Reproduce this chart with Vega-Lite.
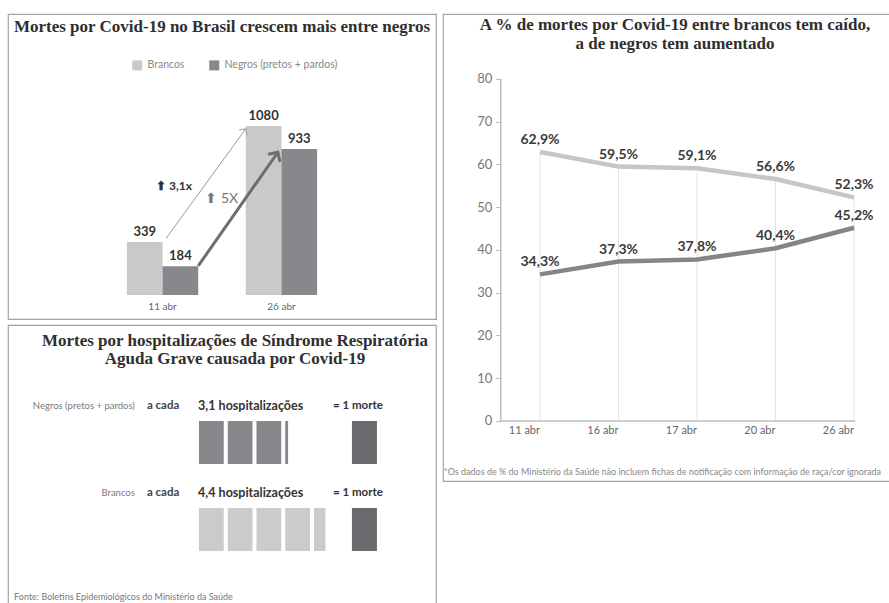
{
  "$schema": "https://vega.github.io/schema/vega-lite/v6.json",
  "background": "white",
  "padding": {"left": 7, "top": 13, "right": 0, "bottom": 0},
  "config": {
    "font": "Lato",
    "view": {"stroke": "#a3a3a3", "strokeWidth": 1.2},
    "locale": {"number": {"decimal": ",", "thousands": ".", "grouping": [3], "currency": ["R$", ""]}},
    "title": {"font": "Liberation Serif", "fontWeight": "bold", "fontSize": 17, "color": "#2f2f2f", "anchor": "middle"}
  },
  "datasets": {
    "bars": [
      {"date": "11 abr", "group": "Brancos", "deaths": 339},
      {"date": "11 abr", "group": "Negros (pretos + pardos)", "deaths": 184},
      {"date": "26 abr", "group": "Brancos", "deaths": 1080},
      {"date": "26 abr", "group": "Negros (pretos + pardos)", "deaths": 933}
    ],
    "picto_units": [
      {"group": "Negros (pretos + pardos)", "start": 0, "end": 1},
      {"group": "Negros (pretos + pardos)", "start": 1, "end": 2},
      {"group": "Negros (pretos + pardos)", "start": 2, "end": 3},
      {"group": "Negros (pretos + pardos)", "start": 3, "end": 3.1},
      {"group": "Brancos", "start": 0, "end": 1},
      {"group": "Brancos", "start": 1, "end": 2},
      {"group": "Brancos", "start": 2, "end": 3},
      {"group": "Brancos", "start": 3, "end": 4},
      {"group": "Brancos", "start": 4, "end": 4.4}
    ],
    "picto_groups": [
      {"group": "Negros (pretos + pardos)", "hosp": 3.1, "label": "3,1 hospitalizações"},
      {"group": "Brancos", "hosp": 4.4, "label": "4,4 hospitalizações"}
    ],
    "pct": [
      {"date": "11 abr", "group": "Brancos", "pct": 62.9},
      {"date": "16 abr", "group": "Brancos", "pct": 59.5},
      {"date": "17 abr", "group": "Brancos", "pct": 59.1},
      {"date": "20 abr", "group": "Brancos", "pct": 56.6},
      {"date": "26 abr", "group": "Brancos", "pct": 52.3},
      {"date": "11 abr", "group": "Negros (pretos + pardos)", "pct": 34.3},
      {"date": "16 abr", "group": "Negros (pretos + pardos)", "pct": 37.3},
      {"date": "17 abr", "group": "Negros (pretos + pardos)", "pct": 37.8},
      {"date": "20 abr", "group": "Negros (pretos + pardos)", "pct": 40.4},
      {"date": "26 abr", "group": "Negros (pretos + pardos)", "pct": 45.2}
    ]
  },
  "spacing": 5,
  "resolve": {"scale": {"color": "independent"}, "legend": {"color": "independent"}},
  "hconcat": [
    {
      "spacing": 4,
      "resolve": {"scale": {"color": "independent"}, "legend": {"color": "independent"}},
      "vconcat": [
        {
          "width": 428,
          "height": 305,
          "title": {"text": "Mortes por Covid-19 no Brasil crescem mais entre negros", "baseline": "top", "offset": -22},
          "layer": [
            {
              "data": {"name": "bars"},
              "mark": {"type": "bar"},
              "encoding": {
                "x": {"field": "date", "type": "nominal", "title": null,
                      "scale": {"domain": ["11 abr", "26 abr"], "paddingInner": 0.4, "paddingOuter": 1.11},
                      "axis": {"labelAngle": 0, "domain": false, "ticks": false, "offset": -24, "labelPadding": 6, "labelFontSize": 10, "labelColor": "#666"}},
                "xOffset": {"field": "group", "type": "nominal", "scale": {"domain": ["Brancos", "Negros (pretos + pardos)"]}},
                "y": {"field": "deaths", "type": "quantitative", "scale": {"domain": [-153, 1795], "nice": false, "zero": false}, "axis": null},
                "color": {"field": "group", "type": "nominal",
                          "scale": {"domain": ["Brancos", "Negros (pretos + pardos)"], "range": ["#c9c9c9", "#88888c"]},
                          "legend": {"orient": "none", "legendX": 124, "legendY": 46, "direction": "horizontal", "title": null,
                                     "symbolType": "square", "symbolSize": 100, "symbolStrokeWidth": 0,
                                     "labelFontSize": 10.5, "labelColor": "#888", "columnPadding": 24, "labelOffset": 5}}
              }
            },
            {
              "data": {"name": "bars"},
              "mark": {"type": "text", "dy": -10, "fontWeight": "bold", "fontSize": 13, "color": "#333"},
              "encoding": {
                "x": {"field": "date", "type": "nominal", "title": null},
                "xOffset": {"field": "group", "type": "nominal"},
                "y": {"field": "deaths", "type": "quantitative", "axis": null},
                "text": {"field": "deaths", "type": "quantitative"}
              }
            },
            {
              "data": {"values": [{"start": "11 abr", "end": "26 abr", "v0": 362, "v1": 1062}]},
              "mark": {"type": "rule", "color": "#9a9a9a", "strokeWidth": 1},
              "encoding": {
                "x": {"field": "start", "type": "nominal", "bandPosition": 0.55, "title": null},
                "x2": {"field": "end", "bandPosition": 0},
                "y": {"field": "v0", "type": "quantitative", "axis": null},
                "y2": {"field": "v1"}
              }
            },
            {
              "data": {"values": [{"end": "26 abr", "v1": 1062}]},
              "mark": {"type": "point", "shape": "M-1,1L0,0L1,1", "filled": false, "strokeWidth": 1, "color": "#9a9a9a", "size": 90, "angle": 34, "opacity": 1},
              "encoding": {
                "x": {"field": "end", "type": "nominal", "bandPosition": 0, "title": null},
                "y": {"field": "v1", "type": "quantitative", "axis": null}
              }
            },
            {
              "data": {"values": [{"start": "11 abr", "end": "26 abr", "v0": 186, "v1": 912}]},
              "mark": {"type": "rule", "color": "#6d6d71", "strokeWidth": 3},
              "encoding": {
                "x": {"field": "start", "type": "nominal", "bandPosition": 1.0, "title": null},
                "x2": {"field": "end", "bandPosition": 0.45},
                "y": {"field": "v0", "type": "quantitative", "axis": null},
                "y2": {"field": "v1"}
              }
            },
            {
              "data": {"values": [{"end": "26 abr", "v1": 912}]},
              "mark": {"type": "point", "shape": "M-1,1L0,0L1,1", "filled": false, "strokeWidth": 3, "color": "#6d6d71", "size": 200, "angle": 33, "opacity": 1},
              "encoding": {
                "x": {"field": "end", "type": "nominal", "bandPosition": 0.45, "title": null},
                "y": {"field": "v1", "type": "quantitative", "axis": null}
              }
            },
            {
              "data": {"values": [{"date": "11 abr", "v": 696, "t": "⬆ 3,1x"}]},
              "mark": {"type": "text", "fontWeight": "bold", "fontSize": 12, "color": "#333"},
              "encoding": {
                "x": {"field": "date", "type": "nominal", "bandPosition": 0.66, "title": null},
                "y": {"field": "v", "type": "quantitative", "axis": null},
                "text": {"field": "t"}
              }
            },
            {
              "data": {"values": [{"date": "11 abr", "v": 613, "t": "⬆ 5X"}]},
              "mark": {"type": "text", "fontSize": 14, "color": "#777"},
              "encoding": {
                "x": {"field": "date", "type": "nominal", "bandPosition": 1.33, "title": null},
                "y": {"field": "v", "type": "quantitative", "axis": null},
                "text": {"field": "t"}
              }
            }
          ]
        },
        {
          "width": 428,
          "height": 280,
          "title": {"text": ["Mortes por hospitalizações de Síndrome Respiratória", "Aguda Grave causada por Covid-19"], "baseline": "top", "offset": -43, "dx": 13, "lineHeight": 18},
          "layer": [
            {
              "data": {"name": "picto_units"},
              "transform": [{"filter": "datum.end - datum.start >= 1"}],
              "mark": {"type": "rect", "x2Offset": -4},
              "encoding": {
                "x": {"field": "start", "type": "quantitative", "scale": {"domain": [-6.643, 8.244], "nice": false, "zero": false}, "axis": null},
                "x2": {"field": "end"},
                "y": {"field": "group", "type": "nominal", "scale": {"domain": ["Negros (pretos + pardos)", "Brancos"], "paddingInner": 0.5057, "paddingOuter": 0.862, "align": 0.64}, "axis": null},
                "color": {"field": "group", "type": "nominal", "scale": {"domain": ["Brancos", "Negros (pretos + pardos)"], "range": ["#cbcbcb", "#88888c"]}, "legend": null}
              }
            },
            {
              "data": {"name": "picto_units"},
              "transform": [{"filter": "datum.end - datum.start < 1"}],
              "mark": {"type": "rect"},
              "encoding": {
                "x": {"field": "start", "type": "quantitative", "axis": null},
                "x2": {"field": "end"},
                "y": {"field": "group", "type": "nominal", "axis": null},
                "color": {"field": "group", "type": "nominal", "legend": null}
              }
            },
            {
              "data": {"name": "picto_groups"},
              "mark": {"type": "rect", "color": "#6a6a6e"},
              "encoding": {
                "x": {"datum": 5.32, "type": "quantitative", "axis": null},
                "x2": {"datum": 6.19},
                "y": {"field": "group", "type": "nominal", "axis": null}
              }
            },
            {
              "data": {"name": "picto_groups"},
              "mark": {"type": "text", "align": "right", "baseline": "middle", "dy": -15, "fontSize": 9.5, "color": "#7a7a7a"},
              "encoding": {
                "x": {"datum": -2.23, "type": "quantitative", "axis": null},
                "y": {"field": "group", "type": "nominal", "bandPosition": 0, "axis": null},
                "text": {"field": "group"}
              }
            },
            {
              "data": {"name": "picto_groups"},
              "mark": {"type": "text", "align": "left", "baseline": "middle", "dy": -15, "fontSize": 11.5, "fontWeight": "bold", "color": "#444", "text": "a cada"},
              "encoding": {
                "x": {"datum": -1.81, "type": "quantitative", "axis": null},
                "y": {"field": "group", "type": "nominal", "bandPosition": 0, "axis": null}
              }
            },
            {
              "data": {"name": "picto_groups"},
              "mark": {"type": "text", "align": "left", "baseline": "middle", "dy": -15, "fontSize": 12.5, "fontWeight": "bold", "color": "#333"},
              "encoding": {
                "x": {"datum": -0.03, "type": "quantitative", "axis": null},
                "y": {"field": "group", "type": "nominal", "bandPosition": 0, "axis": null},
                "text": {"field": "label"}
              }
            },
            {
              "data": {"name": "picto_groups"},
              "mark": {"type": "text", "align": "left", "baseline": "middle", "dy": -15, "fontSize": 11.5, "fontWeight": "bold", "color": "#333", "text": "=  1 morte"},
              "encoding": {
                "x": {"datum": 4.66, "type": "quantitative", "axis": null},
                "y": {"field": "group", "type": "nominal", "bandPosition": 0, "axis": null}
              }
            },
            {
              "data": {"values": [{"group": "Brancos", "note": "Fonte: Boletins Epidemiológicos do Ministério da Saúde"}]},
              "mark": {"type": "text", "align": "left", "baseline": "middle", "fontSize": 9, "color": "#777"},
              "encoding": {
                "x": {"datum": -6.43, "type": "quantitative", "axis": null},
                "y": {"field": "group", "type": "nominal", "bandPosition": 2.07, "axis": null},
                "text": {"field": "note"}
              }
            }
          ]
        }
      ]
    },
    {
      "width": 448,
      "height": 467,
      "title": {"text": ["A % de mortes por Covid-19 entre brancos tem caído,", "a de negros tem aumentado"], "baseline": "top", "offset": -39, "dx": 8, "lineHeight": 19},
      "layer": [
        {
          "data": {"name": "pct"},
          "transform": [{"filter": "datum.group == 'Brancos'"}],
          "mark": {"type": "rule", "color": "#e4e4e4", "strokeWidth": 1},
          "encoding": {
            "x": {"field": "date", "type": "nominal", "title": null},
            "y": {"field": "pct", "type": "quantitative", "title": null},
            "y2": {"datum": 0}
          }
        },
        {
          "data": {"values": [{"from": "11 abr", "to": "26 abr"}]},
          "mark": {"type": "rule", "color": "#bdbdbd", "strokeWidth": 1.5},
          "encoding": {
            "x": {"field": "from", "type": "nominal", "bandPosition": -0.5, "title": null},
            "y": {"datum": 0, "type": "quantitative"},
            "y2": {"datum": 80}
          }
        },
        {
          "data": {"values": [{"from": "11 abr", "to": "26 abr"}]},
          "mark": {"type": "rule", "color": "#bdbdbd", "strokeWidth": 1.5},
          "encoding": {
            "x": {"field": "from", "type": "nominal", "bandPosition": -0.5, "title": null},
            "x2": {"field": "to", "bandPosition": 0.53},
            "y": {"datum": 0, "type": "quantitative"}
          }
        },
        {
          "data": {"name": "pct"},
          "mark": {"type": "line", "strokeWidth": 4.5},
          "encoding": {
            "x": {"field": "date", "type": "nominal", "title": null,
                  "scale": {"type": "band", "domain": ["11 abr", "16 abr", "17 abr", "20 abr", "26 abr"], "paddingInner": 0.5, "paddingOuter": 0.6035, "align": 0.817},
                  "axis": {"labelAngle": 0, "domain": false, "ticks": false, "offset": -60, "labelPadding": 9, "labelFontSize": 11, "labelColor": "#666", "grid": false}},
            "y": {"field": "pct", "type": "quantitative", "title": null,
                  "scale": {"domain": [-14.04, 95.2], "nice": false, "zero": false},
                  "axis": {"values": [0, 10, 20, 30, 40, 50, 60, 70, 80], "offset": -57.75, "domain": false, "grid": false, "ticks": true, "tickSize": 5, "tickColor": "#bbb", "labelFontSize": 13, "labelColor": "#777", "labelPadding": 4}},
            "color": {"field": "group", "type": "nominal", "scale": {"domain": ["Brancos", "Negros (pretos + pardos)"], "range": ["#c6c6c6", "#858589"]}, "legend": null}
          }
        },
        {
          "data": {"name": "pct"},
          "transform": [{"calculate": "format(datum.pct, '.1f') + '%'", "as": "label"}],
          "mark": {"type": "text", "dy": -12, "fontWeight": "bold", "fontSize": 14, "color": "#3a3a3a"},
          "encoding": {
            "x": {"field": "date", "type": "nominal", "title": null},
            "y": {"field": "pct", "type": "quantitative", "title": null},
            "text": {"field": "label"}
          }
        },
        {
          "data": {"values": [{"from": "11 abr", "note": "*Os dados de % do Ministério da Saúde não incluem fichas de notificação com informação de raça/cor ignorada"}]},
          "mark": {"type": "text", "align": "left", "baseline": "middle", "fontSize": 9, "color": "#888"},
          "encoding": {
            "x": {"field": "from", "type": "nominal", "bandPosition": -1.95, "title": null},
            "y": {"datum": -12, "type": "quantitative"},
            "text": {"field": "note"}
          }
        }
      ]
    }
  ]
}
